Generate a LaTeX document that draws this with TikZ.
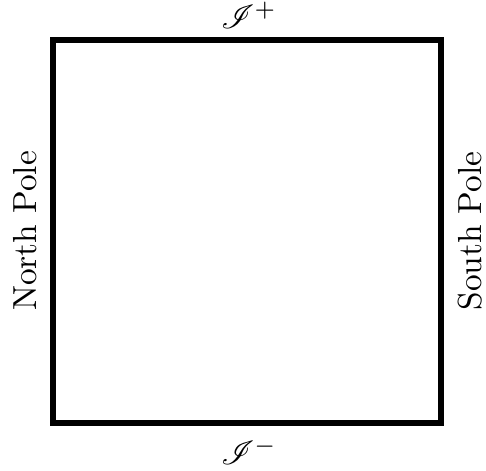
\documentclass[tikz,border=0pt]{standalone}
\usepackage{amsmath,amssymb,mathrsfs}
\usetikzlibrary{positioning}
\begin{document}
\begin{tikzpicture}[x=0.3pt, y=-0.3pt,
  edge/.style={line width=1.8pt, line join=miter},
  pole/.style={font=\normalsize, rotate=90, inner sep=0pt},
  scri/.style={font=\normalsize, inner sep=0pt},
]
\useasboundingbox (0,0) rectangle (486,471);
\coordinate (sw) at (53,423);
\coordinate (ne) at (441,40);
\draw[edge] (sw) rectangle (ne);
\node[scri] (plus)  at (249,15)  {$\mathscr{I}^+$};
\node[scri] (minus) at (249,451) {$\mathscr{I}^-$};
\node[pole] (north) at (25,231)  {North Pole};
\node[pole] (south) at (470,231) {South Pole};
\end{tikzpicture}
\end{document}
